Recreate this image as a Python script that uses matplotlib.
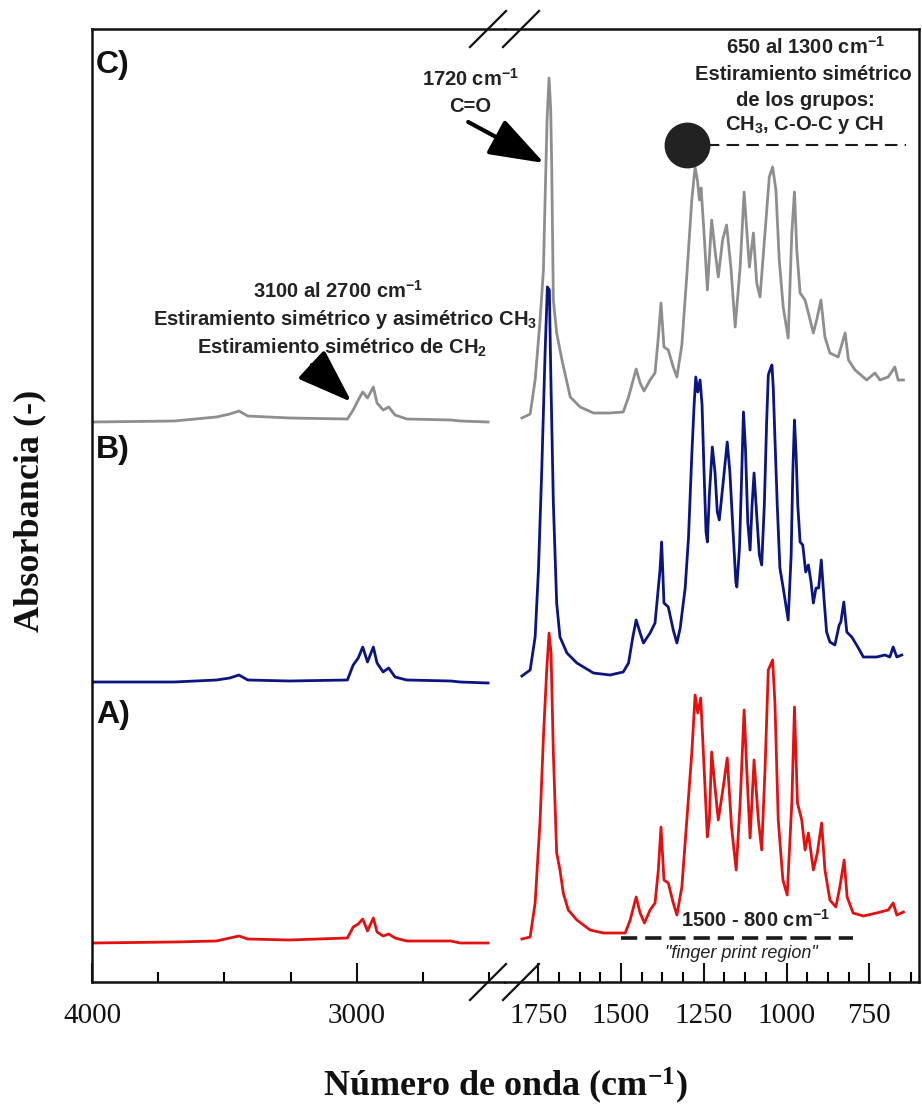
import numpy as np
import matplotlib
matplotlib.use("Agg")
import matplotlib.pyplot as plt
from matplotlib.lines import Line2D

plt.rcParams['font.family'] = ['Liberation Sans', 'DejaVu Sans']
plt.rcParams['mathtext.default'] = 'regular'

# --- datos (numero de onda cm-1, absorbancia con desplazamiento) ---
# zona alta 4000 - 2500 cm-1 (misma rejilla para los tres espectros)
wn_hi = [4000, 3690, 3530, 3480, 3445, 3412, 3255, 3036, 3014, 2995, 2978,
         2960, 2938, 2924, 2901, 2880, 2856, 2812, 2645, 2610, 2505]
abs_hi_C = [5.60, 5.61, 5.65, 5.68, 5.71, 5.66, 5.64, 5.63, 5.72, 5.82, 5.90,
            5.84, 5.95, 5.79, 5.72, 5.75, 5.67, 5.63, 5.62, 5.61, 5.60]
abs_hi_B = [3.00, 3.00, 3.02, 3.04, 3.07, 3.02, 3.01, 3.02, 3.17, 3.24, 3.35,
            3.20, 3.35, 3.19, 3.10, 3.14, 3.05, 3.02, 3.01, 3.00, 2.99]
abs_hi_A = [0.39, 0.40, 0.41, 0.44, 0.46, 0.43, 0.42, 0.44, 0.55, 0.58, 0.63,
            0.51, 0.64, 0.50, 0.46, 0.48, 0.44, 0.41, 0.41, 0.39, 0.39]

# zona baja 1800 - 650 cm-1
spec_lo_C = [(1799, 5.64), (1774, 5.68), (1759, 6.02), (1744, 6.62), (1734, 7.12),
             (1729, 7.82), (1723, 8.62), (1717, 9.04), (1712, 8.72), (1709, 8.17),
             (1704, 6.82), (1694, 6.49), (1678, 6.22), (1653, 5.85), (1623, 5.75),
             (1583, 5.69), (1533, 5.69), (1493, 5.70), (1477, 5.85), (1454, 6.13),
             (1442, 5.99), (1430, 5.91), (1412, 6.02), (1397, 6.09), (1387, 6.45),
             (1379, 6.79), (1370, 6.35), (1357, 6.32), (1342, 6.15), (1331, 6.05),
             (1316, 6.37), (1301, 7.07), (1286, 7.82), (1276, 8.15), (1269, 8.02),
             (1263, 7.82), (1258, 7.94), (1249, 7.49), (1239, 6.92), (1226, 7.62),
             (1216, 7.32), (1206, 7.05), (1193, 7.42), (1181, 7.57), (1168, 7.15),
             (1155, 6.55), (1140, 7.15), (1128, 7.90), (1118, 7.42), (1112, 7.15),
             (1100, 7.49), (1090, 6.99), (1080, 6.85), (1065, 7.49), (1052, 8.05),
             (1042, 8.15), (1032, 7.92), (1022, 7.22), (1010, 6.75), (995, 6.44),
             (984, 7.49), (976, 7.90), (969, 7.32), (959, 6.89), (944, 6.82),
             (934, 6.69), (919, 6.49), (909, 6.62), (896, 6.82), (884, 6.45),
             (869, 6.29), (844, 6.25), (823, 6.49), (813, 6.22), (793, 6.12),
             (758, 6.02), (733, 6.09), (718, 6.02), (693, 6.05), (673, 6.15),
             (663, 6.02), (647, 6.02)]

spec_lo_B = [(1799, 3.06), (1774, 3.12), (1759, 3.45), (1749, 4.12), (1739, 5.12),
             (1729, 6.29), (1722, 6.95), (1716, 6.92), (1712, 6.12), (1704, 4.79),
             (1694, 3.79), (1684, 3.45), (1663, 3.29), (1633, 3.19), (1583, 3.09),
             (1533, 3.07), (1493, 3.10), (1477, 3.19), (1464, 3.45), (1454, 3.62),
             (1442, 3.49), (1432, 3.39), (1412, 3.49), (1397, 3.59), (1382, 4.12),
             (1377, 4.40), (1370, 3.79), (1357, 3.75), (1342, 3.52), (1331, 3.39),
             (1321, 3.54), (1306, 3.94), (1296, 4.44), (1286, 5.27), (1279, 5.77),
             (1274, 6.05), (1268, 5.90), (1261, 6.02), (1255, 5.77), (1249, 5.10),
             (1243, 4.50), (1239, 4.40), (1233, 4.87), (1224, 5.35), (1216, 5.10),
             (1209, 4.70), (1203, 4.62), (1193, 4.94), (1179, 5.40), (1171, 5.10),
             (1162, 4.54), (1153, 4.00), (1150, 3.95), (1142, 4.34), (1136, 5.00),
             (1130, 5.70), (1124, 5.34), (1117, 4.60), (1110, 4.32), (1104, 4.77),
             (1098, 5.09), (1090, 4.67), (1082, 4.27), (1075, 4.17), (1067, 4.77),
             (1060, 5.60), (1055, 6.07), (1050, 6.12), (1044, 6.17), (1040, 5.94),
             (1035, 5.44), (1028, 4.77), (1020, 4.14), (1010, 3.94), (995, 3.62),
             (986, 4.27), (981, 5.10), (976, 5.62), (971, 5.27), (966, 4.77),
             (959, 4.40), (951, 4.37), (942, 4.10), (934, 4.17), (926, 4.00),
             (919, 3.79), (911, 3.94), (903, 3.94), (895, 4.22), (887, 3.84),
             (879, 3.50), (869, 3.40), (854, 3.37), (841, 3.57), (836, 3.60),
             (827, 3.80), (818, 3.50), (803, 3.45), (783, 3.34), (768, 3.25),
             (728, 3.25), (703, 3.27), (688, 3.25), (678, 3.35), (667, 3.25),
             (652, 3.27)]

spec_lo_A = [(1799, 0.43), (1774, 0.45), (1759, 0.79), (1744, 1.62), (1734, 2.45),
             (1724, 3.12), (1717, 3.49), (1711, 3.29), (1704, 2.29), (1694, 1.29),
             (1684, 1.12), (1674, 0.89), (1659, 0.72), (1633, 0.62), (1593, 0.52),
             (1553, 0.49), (1487, 0.49), (1472, 0.62), (1454, 0.85), (1442, 0.69),
             (1429, 0.59), (1412, 0.72), (1397, 0.79), (1387, 1.12), (1379, 1.55),
             (1370, 1.02), (1357, 0.99), (1342, 0.79), (1331, 0.67), (1316, 0.95),
             (1301, 1.62), (1286, 2.29), (1276, 2.87), (1268, 2.69), (1259, 2.84),
             (1251, 2.29), (1239, 1.45), (1233, 1.62), (1226, 2.30), (1216, 1.95),
             (1206, 1.62), (1191, 1.95), (1179, 2.24), (1166, 1.55), (1152, 1.12),
             (1140, 1.79), (1128, 2.72), (1120, 2.12), (1110, 1.44), (1098, 2.22),
             (1085, 1.62), (1075, 1.32), (1065, 2.12), (1055, 3.12), (1042, 3.22),
             (1035, 2.79), (1025, 1.62), (1011, 1.02), (998, 0.87), (984, 1.79),
             (976, 2.75), (967, 1.79), (954, 1.62), (944, 1.32), (934, 1.49),
             (919, 1.12), (907, 1.29), (894, 1.59), (884, 1.12), (869, 0.82),
             (851, 0.75), (839, 0.95), (826, 1.22), (817, 0.85), (799, 0.69),
             (768, 0.66), (728, 0.69), (693, 0.72), (678, 0.79), (667, 0.67),
             (647, 0.70)]

col_A = '#e31010'
col_B = '#0b1580'
col_C = '#8e8e8e'

# rangos marcados
rango_sim = [1300, 640]       # 650 al 1300 cm-1
nivel_sim = 8.37
rango_huella = [1500, 800]    # finger print region
nivel_huella = 0.44

W, H = 922, 1115
def fx(x):
    return x / W
def fy(y):
    return 1 - y / H

fig = plt.figure(figsize=(9.22, 11.15), dpi=100)
x_left, x_mid, x_right = 92, 505, 919
y_top, y_bot = 29, 982
ax1 = fig.add_axes([fx(x_left), fy(y_bot), fx(x_mid) - fx(x_left), fy(y_top) - fy(y_bot)])
ax2 = fig.add_axes([fx(x_mid), fy(y_bot), fx(x_right) - fx(x_mid), fy(y_top) - fy(y_bot)])

lw = 2.0
ax1.plot(wn_hi, abs_hi_C, color=col_C, lw=lw)
ax1.plot(wn_hi, abs_hi_B, color=col_B, lw=lw)
ax1.plot(wn_hi, abs_hi_A, color=col_A, lw=lw)
for spec, col in [(spec_lo_C, col_C), (spec_lo_B, col_B), (spec_lo_A, col_A)]:
    wn, ab = zip(*spec)
    ax2.plot(wn, ab, color=col, lw=lw)

ax1.set_xlim(4000, 2441)
ax2.set_xlim(1850, 600)
for ax in (ax1, ax2):
    ax.set_ylim(0, 9.53)
    ax.set_yticks([])
    for s in ax.spines.values():
        s.set_linewidth(1.8)
        s.set_color('#111111')
    ax.tick_params(axis='x', which='major', direction='in', length=14, width=1.5,
                   pad=15, labelsize=21, colors='#111111')
    ax.tick_params(axis='x', which='minor', direction='in', length=7, width=1.5)
ax1.spines['right'].set_visible(False)
ax2.spines['left'].set_visible(False)

ax1.set_xticks([4000, 3000])
ax1.set_xticks([3750, 3500, 3250, 2750, 2500], minor=True)
ax2.set_xticks([1750, 1500, 1250, 1000, 750])
ax2.set_xticks([t for t in np.arange(1687.5, 600, -62.5) if t % 250 != 0], minor=True)
for ax in (ax1, ax2):
    for lab in ax.get_xticklabels():
        lab.set_family('Liberation Serif')

# marcas de corte del eje
for y0 in (y_top, y_bot):
    for xc in (488, 521):
        fig.add_artist(Line2D([fx(xc - 18), fx(xc + 18)], [fy(y0 + 18), fy(y0 - 18)],
                              transform=fig.transFigure, color='#111111', lw=1.6))

# anotaciones en datos
ax2.plot(rango_sim, [nivel_sim, nivel_sim], color='#1a1a1a', lw=1.5, dashes=(6, 3.5), zorder=3)
ax2.plot([rango_sim[0]], [nivel_sim], 'o', color='#222222', markersize=32, zorder=4)
ax2.plot(rango_huella, [nivel_huella, nivel_huella], color='#1a1a1a', lw=2.6, dashes=(4.5, 2.2))

arrow = dict(arrowstyle='-|>,head_length=1.7,head_width=0.6', color='black', lw=3,
             mutation_scale=20, shrinkA=0, shrinkB=0)
ax2.annotate('', xy=(1732, 8.19), xytext=(1961, 8.60), arrowprops=arrow, annotation_clip=False)
ax1.annotate('', xy=(3020, 5.80), xytext=(3170, 6.17), arrowprops=arrow, annotation_clip=False)

# textos
tk = dict(fontsize=14.5, fontweight='bold', color='#222222', ha='center', va='center')
for lab, y in [('C)', 65), ('B)', 450), ('A)', 715)]:
    fig.text(fx(96), fy(y), lab, fontsize=23, fontweight='bold', color='#111111', va='center')
fig.text(fx(470), fy(79), '1720 cm$^{-1}$', **tk)
fig.text(fx(470), fy(107), 'C=O', **tk)
fig.text(fx(805), fy(47), '650 al 1300 cm$^{-1}$', **tk)
fig.text(fx(803), fy(75), 'Estiramiento simétrico', **tk)
fig.text(fx(805), fy(101), 'de los grupos:', **tk)
fig.text(fx(805), fy(125), 'CH$_3$, C-O-C y CH', **tk)
fig.text(fx(338), fy(291), '3100 al 2700 cm$^{-1}$', **tk)
fig.text(fx(345), fy(320), 'Estiramiento simétrico y asimétrico CH$_3$', **tk)
fig.text(fx(342), fy(348), 'Estiramiento simétrico de CH$_2$', **tk)
fig.text(fx(755), fy(920), '1500 - 800 cm$^{-1}$', **tk)
fig.text(fx(741), fy(954), '"finger print region"', fontsize=13, fontstyle='italic',
         color='#222222', ha='center', va='center')

fig.text(fx(30), fy(511), 'Absorbancia (-)', rotation=90, fontsize=26, fontweight='bold',
         family='Liberation Serif', ha='center', va='center', color='#111111')
fig.text(fx(505), fy(1086), 'Número de onda (cm$^{-1}$)', fontsize=26, fontweight='bold',
         family='Liberation Serif', ha='center', va='center', color='#111111')

fig.savefig('out.png', dpi=100)
